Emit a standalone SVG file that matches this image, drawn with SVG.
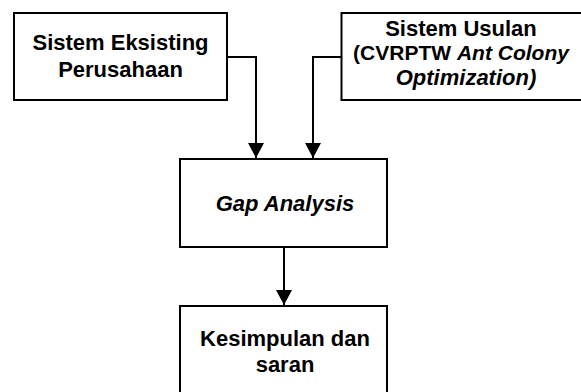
<svg xmlns="http://www.w3.org/2000/svg" width="581" height="392" viewBox="0 0 581 392">
<style>
.box{fill:#fff;stroke:#000;stroke-width:2}
.t{font-family:"Liberation Sans",Arial,sans-serif;font-weight:bold;font-size:22px;fill:#000;text-anchor:middle}
.i{font-style:italic}
.c{fill:none;stroke:#000;stroke-width:2}
</style>
<defs>
<marker id="ah" markerUnits="userSpaceOnUse" markerWidth="16" markerHeight="16" refX="15" refY="8" orient="auto">
<path d="M0,0 L15,8 L0,16 z" fill="#000"/>
</marker>
</defs>
<rect width="581" height="392" fill="#fff"/>
<g id="connectors">
<path class="c" d="M227,57 H256 V158" marker-end="url(#ah)"/>
<path class="c" d="M341,57 H313 V158" marker-end="url(#ah)"/>
<path class="c" d="M284,247 V305" marker-end="url(#ah)"/>
</g>
<g id="eksisting">
<rect class="box" x="14" y="13" width="213" height="87"/>
<text class="t" x="120.5" y="50">Sistem Eksisting</text>
<text class="t" x="120.5" y="77">Perusahaan</text>
</g>
<g id="usulan">
<rect class="box" x="341.5" y="13" width="250" height="87"/>
<text class="t" x="461" y="36">Sistem Usulan</text>
<text class="t" x="461" y="60" style="font-size:21px">(CVRPTW <tspan class="i">Ant Colony</tspan></text>
<text class="t i" x="466" y="85">Optimization)</text>
</g>
<g id="gap">
<rect class="box" x="180" y="159" width="207" height="88"/>
<text class="t i" x="285" y="211">Gap Analysis</text>
</g>
<g id="kesimpulan">
<rect class="box" x="180" y="306" width="207" height="100"/>
<text class="t" x="285" y="346">Kesimpulan dan</text>
<text class="t" x="285" y="372">saran</text>
</g>
</svg>
